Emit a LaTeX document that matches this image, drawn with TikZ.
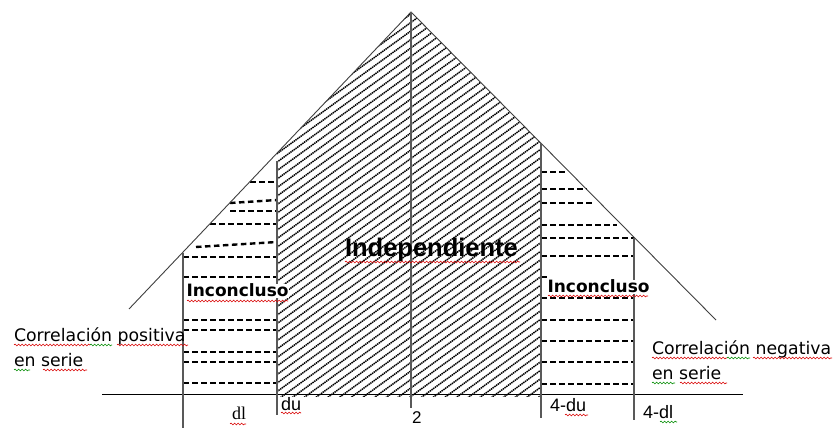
\documentclass[tikz,border=0pt]{standalone}
\usepackage{fontspec}
\setmainfont{DejaVu Sans}
\newfontfamily\arialf{Liberation Sans}
\newfontfamily\timesf{Liberation Serif}
\usetikzlibrary{decorations.pathmorphing}
\begin{document}
\begin{tikzpicture}[x=1pt,y=-1pt,
  edge/.style={draw=black!75, line width=0.9pt},
  vline/.style={draw=black!65, line width=1.4pt},
  baseln/.style={draw=black, line width=1pt},
  hatch/.style={draw=black, line width=1.5pt, dash pattern=on 1.4pt off 0.7pt},
  dsh/.style={draw=black, line width=2.4pt, dash pattern=on 5.5pt off 3.5pt},
  lbl/.style={anchor=base west, inner sep=0pt, outer sep=0pt},
  redsq/.style={draw=red!85!black, line width=0.6pt, decorate,
     decoration={snake, amplitude=0.9pt, segment length=3.5pt}},
  greensq/.style={redsq, draw=green!55!black}]
\useasboundingbox (0,0) rectangle (836,430);
\fill[white] (0,0) rectangle (836,430);

% key points
\coordinate (apex) at (411,12);
\coordinate (leftend) at (129,309);
\coordinate (rightend) at (716,320);
\coordinate (b1) at (102,395);
\coordinate (b2) at (743,395);
\coordinate (v1t) at (183,253); \coordinate (v1b) at (183,428);
\coordinate (v2t) at (277,161); \coordinate (v2b) at (277,415);
\coordinate (vct) at (411,12);  \coordinate (vcb) at (411,408);
\coordinate (v3t) at (541,143); \coordinate (v3b) at (541,418);
\coordinate (v4t) at (634,238); \coordinate (v4b) at (634,420);

% hatching of the central region
\begin{scope}
  \clip (277,153) -- (411,12) -- (541,143) -- (541,397) -- (277,397) -- cycle;
  \foreach \c in {60,68.5,...,590}
    \draw[hatch] (270,\c+5.2) -- (550,\c-198);
\end{scope}

% dashed horizontal lines, left inconclusive zone
\foreach \xa/\ya/\xb/\yb in {250/182/277/182, 230/203/277/200, 230/211/277/211,
   210/224/277/224, 196/247/277/242, 183/257/277/257, 183/277/277/277,
   183/320/277/320, 183/330/277/330, 183/352/277/352, 183/362/277/362,
   183/383/277/383}
  \draw[dsh] (\xa,\ya) -- (\xb,\yb);

% dashed horizontal lines, right inconclusive zone
\foreach \xa/\ya/\xb/\yb in {541/172/567/172, 541/189/587/189, 541/203/592/203,
   541/225/617/225, 541/238/634/238, 541/256/634/256, 541/277/548/277,
   541/298/634/298, 541/320/634/320, 541/341/634/341, 541/362/634/362,
   541/384/634/384}
  \draw[dsh] (\xa,\ya) -- (\xb,\yb);

% triangle, base line and verticals
\draw[edge] (leftend) -- (apex) -- (rightend);
\draw[baseln] (b1) -- (b2);
\draw[vline] (v1t) -- (v1b);
\draw[vline] (v2t) -- (v2b);
\draw[vline] (vct) -- (vcb);
\draw[vline] (v3t) -- (v3b);
\draw[vline] (v4t) -- (v4b);

% labels
\node[lbl, font=\arialf\bfseries\fontsize{25.5}{30}\selectfont] (indep) at (345,257) {Independiente};
\node[lbl, fill=white, inner sep=0.5pt, font=\bfseries\fontsize{17}{20}\selectfont] (incL) at (186,297) {Inconcluso};
\node[lbl, fill=white, inner sep=0.5pt, font=\bfseries\fontsize{17}{20}\selectfont] (incR) at (547,293) {Inconcluso};
\node[lbl, font=\fontsize{17.3}{20}\selectfont] (corrP1) at (14,342) {Correlación positiva};
\node[lbl, font=\fontsize{17.3}{20}\selectfont] (corrP2) at (14,367) {en serie};
\node[lbl, font=\fontsize{17.3}{20}\selectfont] (corrN1) at (652,355) {Correlación negativa};
\node[lbl, font=\fontsize{17.3}{20}\selectfont] (corrN2) at (652,380) {en serie};
\node[lbl, font=\timesf\fontsize{18}{20}\selectfont] (dl) at (232,420) {dl};
\node[lbl, font=\arialf\fontsize{18}{20}\selectfont] (du) at (281,410) {du};
\node[lbl, font=\arialf\fontsize{17}{20}\selectfont] (two) at (412,424) {2};
\node[lbl, font=\arialf\fontsize{18}{20}\selectfont] (fdu) at (550,412) {4-du};
\node[lbl, font=\arialf\fontsize{18}{20}\selectfont] (fdl) at (643,418) {4-dl};

% spell-check underlines
\draw[redsq] (345,262) -- (520,262);
\draw[redsq] (187,301) -- (288,301);
\draw[redsq] (548,296) -- (648,296);
\draw[redsq] (14,345) -- (90,345);
\draw[greensq] (90,345) -- (112,345);
\draw[redsq] (117,345) -- (188,345);
\draw[greensq] (14,370) -- (30,370);
\draw[redsq] (43,370) -- (87,370);
\draw[redsq] (652,358) -- (727,358);
\draw[greensq] (727,358) -- (750,358);
\draw[redsq] (753,358) -- (832,358);
\draw[greensq] (652,383) -- (675,383);
\draw[redsq] (680,383) -- (727,383);
\draw[redsq] (230,424) -- (246,424);
\draw[redsq] (281,413) -- (301,413);
\draw[redsq] (565,415) -- (588,415);
\draw[greensq] (660,422) -- (677,422);
\end{tikzpicture}
\end{document}
